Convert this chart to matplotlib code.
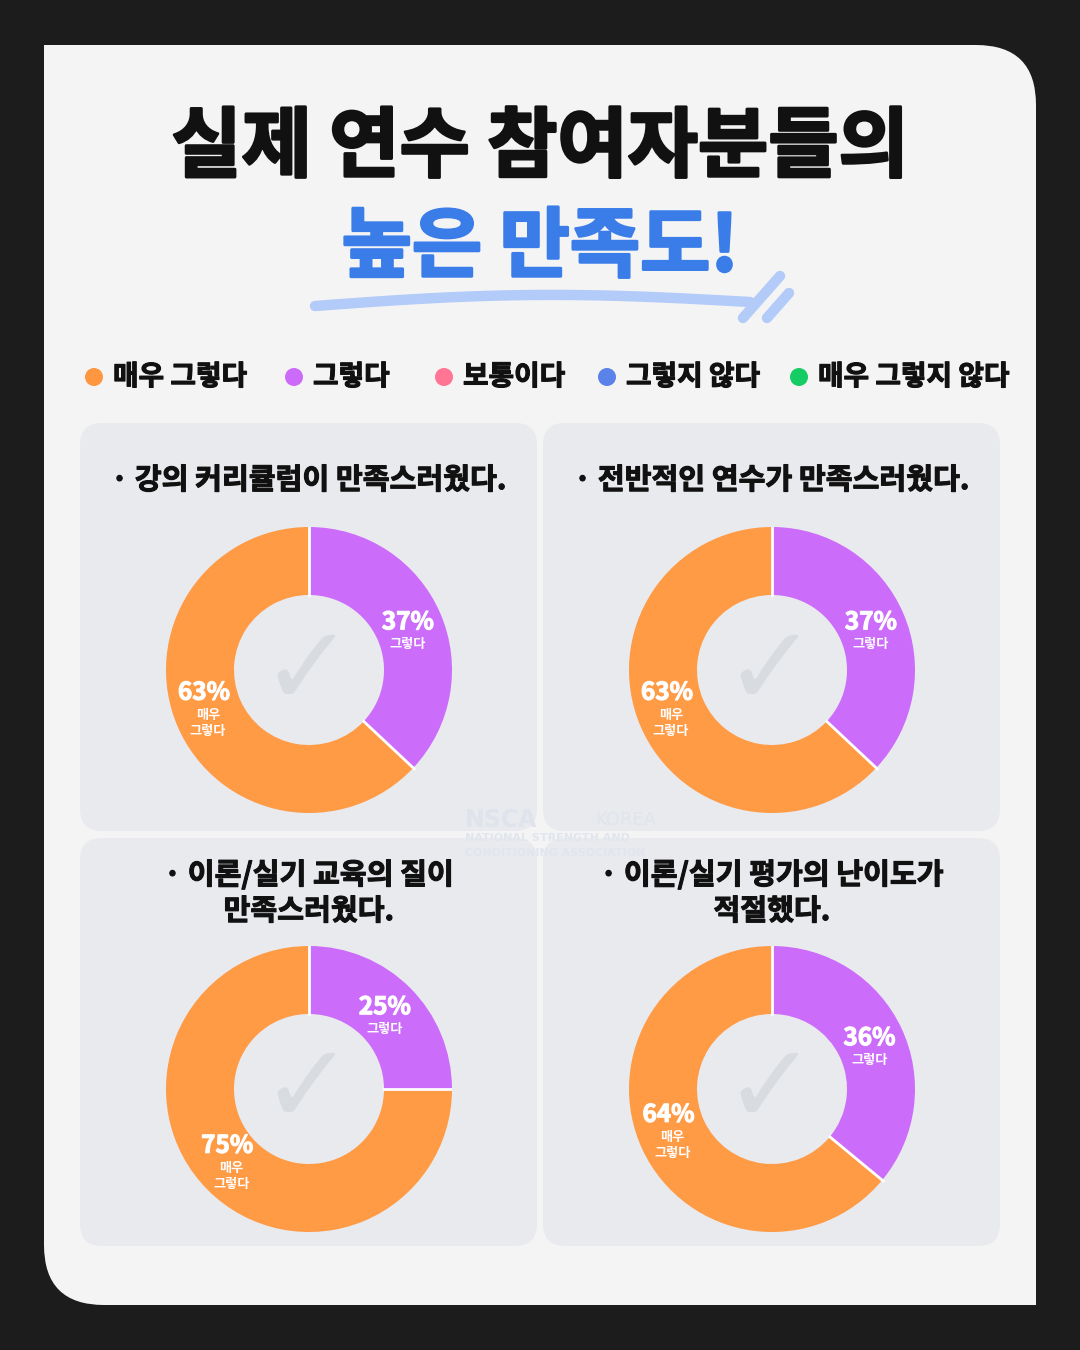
import numpy as np
import matplotlib.pyplot as plt
import matplotlib.patheffects as pe
from matplotlib.patches import FancyBboxPatch, Rectangle, Circle

plt.rcParams['font.family'] = ['Noto Sans CJK KR', 'DejaVu Sans']

W, H = 1080, 1350

title_line1 = "실제 연수 참여자분들의"
title_line2 = "높은 만족도!"

legend_labels = ["매우 그렇다", "그렇다", "보통이다", "그렇지 않다", "매우 그렇지 않다"]
legend_colors = ["#ff9640", "#cc6bfa", "#ff7593", "#5b82e8", "#16cc64"]
legend_x = [94, 294, 444, 607, 799]

questions = ["· 강의 커리큘럼이 만족스러웠다.",
             "· 전반적인 연수가 만족스러웠다.",
             "· 이론/실기 교육의 질이\n만족스러웠다.",
             "· 이론/실기 평가의 난이도가\n적절했다."]
satisfied = [37, 37, 25, 36]        # 그렇다
very_satisfied = [63, 63, 75, 64]   # 매우 그렇다

ORANGE = "#ff9a45"
PURPLE = "#cc6cfa"
BLUE = "#3a7de9"
PANEL = "#e9eaee"


def thick(color, w):
    # fake a heavier weight than the installed bold
    return [pe.Stroke(linewidth=w, foreground=color), pe.Normal()]


fig = plt.figure(figsize=(W / 100, H / 100), dpi=100)
fig.patch.set_facecolor("#1c1c1c")

ax = fig.add_axes([0, 0, 1, 1])
ax.set_xlim(0, W)
ax.set_ylim(H, 0)
ax.axis("off")

# card with rounded top-right and bottom-left corners
card = FancyBboxPatch((44, 45), 992, 1260, boxstyle="round,pad=0,rounding_size=60",
                      fc="#f4f4f4", ec="none")
ax.add_patch(card)
ax.add_patch(Rectangle((44, 45), 80, 80, fc="#f4f4f4", ec="none"))
ax.add_patch(Rectangle((956, 1225), 80, 80, fc="#f4f4f4", ec="none"))

# title
ax.text(540, 148, title_line1, ha="center", va="center", fontsize=55,
        fontweight="bold", color="#111111", path_effects=thick("#111111", 2))
ax.text(540, 248, title_line2, ha="center", va="center", fontsize=55,
        fontweight="bold", color=BLUE, path_effects=thick(BLUE, 2))

# hand-drawn underline
t = np.linspace(0, 1, 50)
ux = 315 + (750 - 315) * t
uy = 306 - 10 * np.sin(np.pi * t) * 0.9 - 4 * t
ax.plot(ux, uy, color="#b3cbf9", lw=7.5, solid_capstyle="round")
ax.plot([743, 780], [318, 276], color="#b3cbf9", lw=7.5, solid_capstyle="round")
ax.plot([767, 789], [318, 293], color="#b3cbf9", lw=7.5, solid_capstyle="round")

# legend
for lx, lab, col in zip(legend_x, legend_labels, legend_colors):
    ax.add_patch(Circle((lx, 377), 9, fc=col, ec="none"))
    ax.text(lx + 19, 377, lab, ha="left", va="center", fontsize=20,
            fontweight="bold", color="#111111", path_effects=thick("#111111", 0.8))

# panels
panel_x = [80, 543, 80, 543]
panel_y = [423, 423, 838, 838]
for px, py in zip(panel_x, panel_y):
    ax.add_patch(FancyBboxPatch((px, py), 457, 408, boxstyle="round,pad=0,rounding_size=22",
                                fc=PANEL, ec="none"))

title_y = [480, 480, 893, 893]
for px, ty, q in zip(panel_x, title_y, questions):
    ax.text(px + 229, ty, q, ha="center", va="center", fontsize=21,
            fontweight="bold", color="#111111", linespacing=1.25,
            path_effects=thick("#111111", 0.8))

# watermark
ax.text(465, 820, "NSCA", ha="left", va="center", fontsize=17, fontweight="bold",
        color="#dfe3ec", family="DejaVu Sans")
ax.text(595, 820, "KOREA", ha="left", va="center", fontsize=13,
        color="#e0e4ec", family="DejaVu Sans")
ax.text(465, 838, "NATIONAL STRENGTH AND", ha="left", va="center", fontsize=8,
        fontweight="bold", color="#e1e5ed", family="DejaVu Sans")
ax.text(465, 853, "CONDITIONING ASSOCIATION", ha="left", va="center", fontsize=8,
        fontweight="bold", color="#e1e5ed", family="DejaVu Sans")

# donuts
R = 143
r_in = 75
centers = [(309, 670), (772, 670), (309, 1089), (772, 1089)]
for (cx, cy), s, v in zip(centers, satisfied, very_satisfied):
    ax.text(cx - 2, cy + 4, "✓", ha="center", va="center", fontsize=80,
            color="#d8dbe0", family="DejaVu Sans")
    pax = fig.add_axes([(cx - R) / W, 1 - (cy + R) / H, 2 * R / W, 2 * R / H])
    pax.pie([s, v], colors=[PURPLE, ORANGE], startangle=90, counterclock=False,
            radius=1, wedgeprops=dict(width=1 - r_in / R, edgecolor="none"))
    # white separators between slices
    for frac in [0, s / (s + v)]:
        a = np.deg2rad(360 * frac)
        pax.plot([r_in / R * np.sin(a), 1.01 * np.sin(a)],
                 [r_in / R * np.cos(a), 1.01 * np.cos(a)], color="white", lw=2)
    pax.set_xlim(-1, 1)
    pax.set_ylim(-1, 1)
    pax.set_aspect("equal")
    pax.axis("off")

# labels on top
top = fig.add_axes([0, 0, 1, 1])
top.set_xlim(0, W)
top.set_ylim(H, 0)
top.axis("off")
top.patch.set_alpha(0)

r_lab = 110
for (cx, cy), s, v in zip(centers, satisfied, very_satisfied):
    total = s + v
    a1 = np.deg2rad(360 * (s / 2) / total)
    a2 = np.deg2rad(360 * (s + v / 2) / total)
    x1, y1 = cx + r_lab * np.sin(a1), cy - r_lab * np.cos(a1)
    x2, y2 = cx + r_lab * np.sin(a2), cy - r_lab * np.cos(a2)
    top.text(x1 - 2, y1 - 4, f"{s}%", ha="center", va="center", fontsize=17.5,
             fontweight="bold", color="white", path_effects=thick("white", 0.8))
    top.text(x1 - 2, y1 + 18, "그렇다", ha="center", va="center", fontsize=9.5,
             fontweight="bold", color="white")
    top.text(x2 - 4, y2 - 21, f"{v}%", ha="center", va="center", fontsize=17.5,
             fontweight="bold", color="white", path_effects=thick("white", 0.8))
    top.text(x2, y2 + 1, "매우", ha="center", va="center", fontsize=9.5,
             fontweight="bold", color="white")
    top.text(x2, y2 + 17, "그렇다", ha="center", va="center", fontsize=9.5,
             fontweight="bold", color="white")

fig.savefig("out.png", dpi=100, facecolor=fig.get_facecolor())
